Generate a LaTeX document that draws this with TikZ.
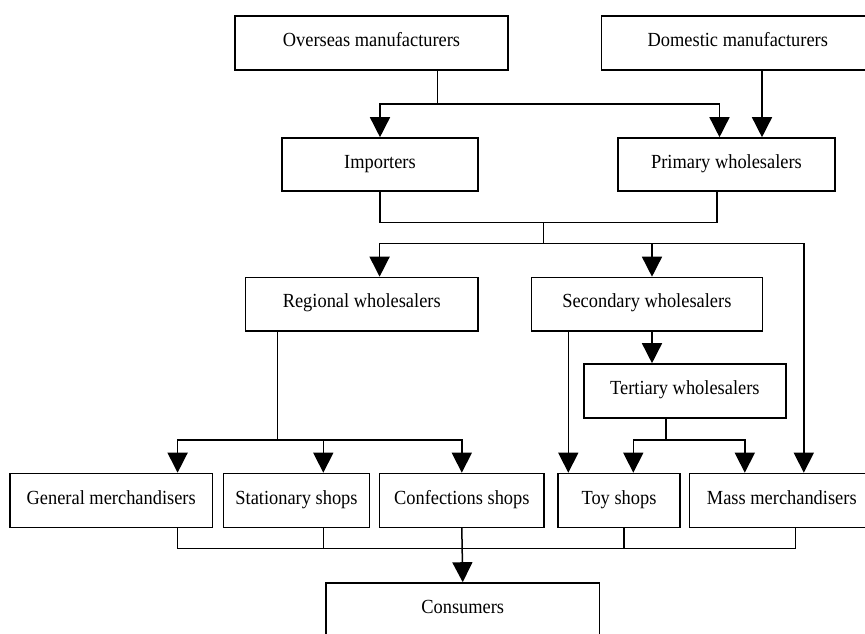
\documentclass[tikz,border=0pt]{standalone}
\usepackage{fontspec}
\setmainfont{Liberation Serif}[FakeStretch=0.92]
\usetikzlibrary{arrows.meta}
\tikzset{
  box/.style={draw, line width=1.6pt, rectangle, inner sep=0pt, minimum height=54pt,
    text height=13.5pt, text depth=6.3pt, font=\fontsize{20}{24}\selectfont},
  ln/.style={line width=1.5pt},
  arr/.style={line width=1.5pt, -{Triangle[length=20pt,width=20pt]}},
}
\begin{document}
\begin{tikzpicture}[x=1pt,y=-1pt]
\useasboundingbox (0,0) rectangle (865,633);
\fill[white] (0,0) rectangle (865,633);
\clip (0,0) rectangle (865,633);
% boxes
\node[box, minimum width=273pt] (over) at (371.5,43) {Overseas manufacturers};
\node[box, minimum width=272.4pt] (dom) at (737.8,43) {Domestic manufacturers};
\node[box, minimum width=196pt, minimum height=53pt] (imp) at (380,164.5) {Importers};
\node[box, minimum width=217pt, minimum height=53pt] (prim) at (726.5,164.5) {Primary wholesalers};
\node[box, minimum width=232.5pt, minimum height=53.5pt] (reg) at (361.75,304.25) {Regional wholesalers};
\node[box, minimum width=231.1pt, minimum height=53.5pt] (sec) at (646.85,304.25) {Secondary wholesalers};
\node[box, minimum width=202.3pt] (ter) at (684.85,391) {Tertiary wholesalers};
\node[box, minimum width=202.4pt, minimum height=53.8pt] (gen) at (111.2,500.4) {General merchandisers};
\node[box, minimum width=146.2pt, minimum height=53.8pt] (sta) at (296.5,500.4) {Stationary shops};
\node[box, minimum width=164.4pt, minimum height=53.8pt] (con) at (461.8,500.4) {Confections shops};
\node[box, minimum width=122pt, minimum height=53.8pt] (toy) at (619,500.4) {Toy shops};
\node[box, minimum width=184.4pt, minimum height=53.8pt] (mass) at (781.8,500.4) {Mass merchandisers};
\node[box, minimum width=273.5pt] (cons) at (462.75,610) {Consumers};
% helper coordinates
\coordinate (jo) at (437.5,104);
\coordinate (xp) at (719.5,0);
\coordinate (xd) at (762,0);
\coordinate (jm) at (543.4,222.7);
\coordinate (xq) at (717,0);
\coordinate (jn) at (543.4,243.3);
\coordinate (xr) at (379.6,0);
\coordinate (xs) at (652,0);
\coordinate (xm) at (803.8,0);
\coordinate (xt) at (568.3,0);
\coordinate (jr) at (277.5,440);
\coordinate (xg) at (177.6,0);
\coordinate (xa) at (323.3,0);
\coordinate (jt) at (666,440);
\coordinate (xy) at (633.3,0);
\coordinate (xz) at (744.8,0);
\coordinate (jb) at (461.8,548.3);
\coordinate (xb) at (624,0);
\coordinate (xc) at (795.6,0);
% connectors
\draw[ln] (over.south -| jo) -- (jo);
\draw[arr] (jo) -| (imp.north);
\draw[arr] (jo) -| (prim.north -| xp);
\draw[arr] (dom.south -| xd) -- (prim.north -| xd);
\draw[ln] (imp.south) |- (jm);
\draw[ln] (prim.south -| xq) |- (jm);
\draw[ln] (jm) -- (jn);
\draw[arr] (jn) -| (reg.north -| xr);
\draw[arr] (jn) -| (sec.north -| xs);
\draw[arr] (jn) -| (mass.north -| xm);
\draw[arr] (sec.south -| xs) -- (ter.north -| xs);
\draw[arr] (sec.south -| xt) -- (toy.north -| xt);
\draw[ln] (reg.south -| jr) -- (jr);
\draw[arr] (jr) -| (gen.north -| xg);
\draw[arr] (jr) -| (sta.north -| xa);
\draw[arr] (jr) -| (con.north);
\draw[ln] (ter.south -| jt) -- (jt);
\draw[arr] (jt) -| (toy.north -| xy);
\draw[arr] (jt) -| (mass.north -| xz);
\draw[ln] (gen.south -| xg) |- (jb);
\draw[ln] (sta.south -| xa) |- (jb);
\draw[ln] (toy.south -| xb) |- (jb);
\draw[ln] (mass.south -| xc) |- (jb);
\draw[arr] (con.south) -- (cons.north);
\end{tikzpicture}
\end{document}
